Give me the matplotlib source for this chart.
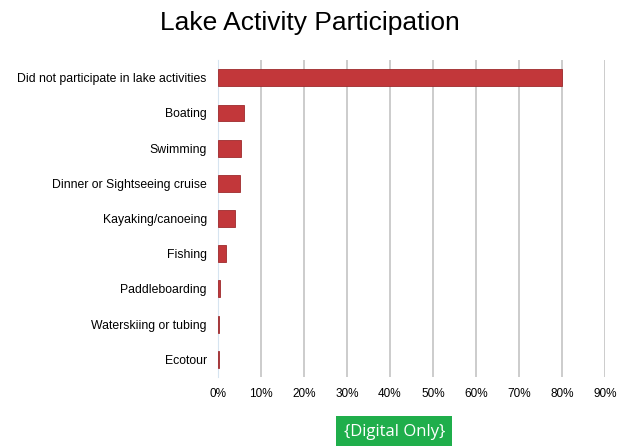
import matplotlib.pyplot as plt
from matplotlib.ticker import FuncFormatter

# Data (percent of respondents)
activities = [
    'Did not participate in lake activities',
    'Boating',
    'Swimming',
    'Dinner or Sightseeing cruise',
    'Kayaking/canoeing',
    'Fishing',
    'Paddleboarding',
    'Waterskiing or tubing',
    'Ecotour',
]
percent = [80.0, 6.0, 5.3, 5.1, 4.0, 1.9, 0.6, 0.3, 0.3]
x_ticks = [0, 10, 20, 30, 40, 50, 60, 70, 80, 90]

plt.rcParams['font.family'] = ['Liberation Sans', 'DejaVu Sans']

fig = plt.figure(figsize=(6.19, 4.46), dpi=100)
ax = fig.add_axes([0.352, 0.155, 0.625, 0.71])

y = list(range(len(activities)))
ax.barh(y, percent, height=0.48, color='#c2373a', edgecolor='#9e2a2c', linewidth=0.6, zorder=3)
ax.set_yticks(y)
ax.set_yticklabels(activities, fontsize=8.8)
ax.set_ylim(len(activities) - 0.5, -0.5)

ax.set_xlim(0, 90)
ax.set_xticks(x_ticks)
ax.xaxis.set_major_formatter(FuncFormatter(lambda v, p: f'{v:.0f}%'))
ax.tick_params(axis='x', labelsize=8.5, length=0, pad=8)
ax.tick_params(axis='y', length=0, pad=8)
ax.grid(axis='x', color='#c8c8c8', linewidth=1.3, zorder=0)

for s in ['top', 'right', 'bottom']:
    ax.spines[s].set_visible(False)
ax.spines['left'].set_color('#d6e4f0')
ax.spines['left'].set_linewidth(0.8)

fig.text(0.5, 0.948, 'Lake Activity Participation', ha='center', va='center', fontsize=19)

fig.text(0.637, 0.032, '{Digital Only}', ha='center', va='center', fontsize=12,
         color='white', family=['Open Sans', 'DejaVu Sans'],
         bbox=dict(boxstyle='square,pad=0.45', facecolor='#1fae4b', edgecolor='none'))

fig.savefig('out.png', dpi=100)
